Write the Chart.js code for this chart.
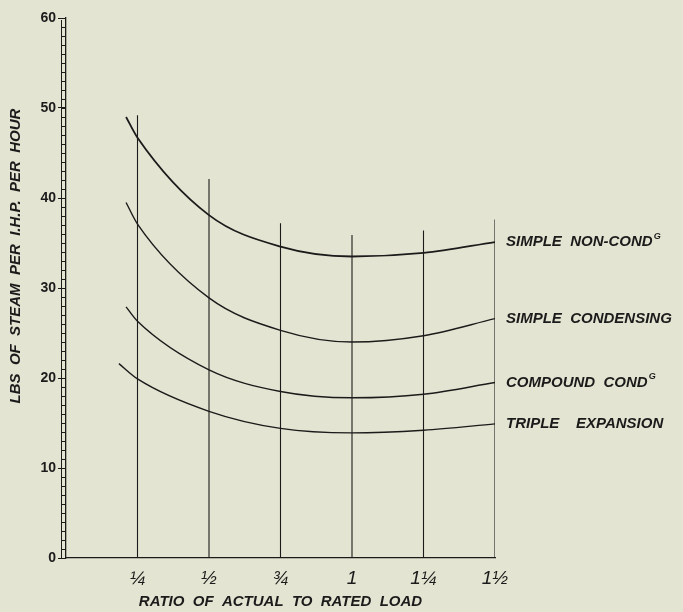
<!DOCTYPE html>
<html>
<head>
<meta charset="utf-8">
<script src="https://cdn.jsdelivr.net/npm/chart.js@4"></script>
<style>
  html, body { margin: 0; padding: 0; background: #e4e4d2; }
  #wrap { width: 683px; height: 612px; }
</style>
</head>
<body>
<div id="wrap"><canvas id="steamChart"></canvas></div>
<script>
// load ratios where the curves are read, and how they are written on the axis
const loadRatios = [0.25, 0.5, 0.75, 1, 1.25, 1.5];
const loadTickLabels = ['¼', '½', '¾', '1', '1¼', '1½'];
const steamTicks = [0, 10, 20, 30, 40, 50, 60];

// engine types (G written raised after the abbreviated "COND")
const engineNames = ['SIMPLE  NON-COND', 'SIMPLE  CONDENSING', 'COMPOUND  COND', 'TRIPLE    EXPANSION'];
const nameSuffix = ['G', '', 'G', ''];

// where each curve begins, left of the 1/4 rule
const curveStartLoad = [0.21, 0.21, 0.21, 0.185];
const curveStartSteam = [49.0, 39.5, 27.9, 21.6];

// lbs of steam per I.H.P. per hour at each load ratio
const simpleNonCond = [46.7, 38.1, 34.6, 33.5, 33.9, 35.1];
const simpleCondensing = [37.1, 28.9, 25.3, 24.0, 24.7, 26.6];
const compoundCond = [26.3, 20.9, 18.5, 17.8, 18.2, 19.5];
const tripleExpansion = [19.9, 16.3, 14.4, 13.9, 14.2, 14.9];

// how high the upright rule at each load ratio is drawn
const ruleTops = [49.2, 42.1, 37.2, 35.9, 36.4, 37.6];

const ink = '#1b1b1b';
const face = '"Liberation Sans", Arial, sans-serif';
const curves = [simpleNonCond, simpleCondensing, compoundCond, tripleExpansion];

const curveSets = curves.map((vals, i) => ({
    data: [{ x: curveStartLoad[i], y: curveStartSteam[i] }]
        .concat(loadRatios.map((x, j) => ({ x: x, y: vals[j] }))),
    borderColor: ink,
    borderWidth: i === 0 ? 1.8 : 1.4,
    pointRadius: 0,
    fill: false,
    cubicInterpolationMode: 'monotone'
}));

const ruleSets = loadRatios.map((x, i) => ({
    data: [{ x: x, y: 0 }, { x: x, y: ruleTops[i] }],
    borderColor: ink,
    borderWidth: 1.1,
    pointRadius: 0,
    fill: false
}));

// double ruled y axis with a rung at every unit
const ladder = {
    id: 'ladder',
    afterDraw(chart) {
        const ctx = chart.ctx;
        const y = chart.scales.y;
        const left = chart.chartArea.left;
        ctx.save();
        ctx.strokeStyle = ink;
        ctx.lineWidth = 1;
        ctx.beginPath();
        ctx.moveTo(left - 4.5, y.getPixelForValue(0));
        ctx.lineTo(left - 4.5, y.getPixelForValue(60) + 2);
        for (let v = 1; v <= 60; v++) {
            const py = Math.round(y.getPixelForValue(v)) + 0.5;
            ctx.moveTo(left - 4.5, py);
            ctx.lineTo(left, py);
        }
        ctx.stroke();
        ctx.restore();
    }
};

// names at the right hand end of each curve, plus the y axis title
const curveNames = {
    id: 'curveNames',
    afterDatasetsDraw(chart) {
        const ctx = chart.ctx;
        ctx.save();
        ctx.fillStyle = ink;
        ctx.textBaseline = 'middle';
        curves.forEach((c, i) => {
            const pts = chart.getDatasetMeta(i).data;
            const last = pts[pts.length - 1];
            const tx = last.x + 11;
            ctx.font = 'italic bold 15px ' + face;
            ctx.fillText(engineNames[i], tx, last.y);
            if (nameSuffix[i]) {
                const w = ctx.measureText(engineNames[i]).width;
                ctx.font = 'italic bold 9px ' + face;
                ctx.fillText(nameSuffix[i], tx + w + 1, last.y - 6);
            }
        });
        ctx.translate(16, 256);
        ctx.rotate(-Math.PI / 2);
        ctx.textAlign = 'center';
        ctx.font = 'italic bold 15px ' + face;
        ctx.fillText('LBS  OF  STEAM  PER  I.H.P.  PER  HOUR', 0, 0);
        ctx.restore();
    }
};

const ctx = document.getElementById('steamChart').getContext('2d');
const steamChart = new Chart(ctx, {
    type: 'line',
    data: { datasets: curveSets.concat(ruleSets) },
    options: {
        responsive: true,
        maintainAspectRatio: false,
        animation: false,
        layout: { padding: { top: 18, right: 188, left: 0, bottom: 0 } },
        scales: {
            x: {
                type: 'linear',
                min: 0,
                max: 1.5,
                afterBuildTicks: (s) => { s.ticks = loadRatios.map(v => ({ value: v })); },
                afterFit: (s) => { s.height = 54; },
                grid: { display: false },
                border: { color: ink, width: 1.3 },
                ticks: {
                    color: ink,
                    padding: 1,
                    maxRotation: 0,
                    font: { family: face, size: 19, style: 'italic' },
                    callback: (v) => loadTickLabels[loadRatios.indexOf(v)] || ''
                },
                title: {
                    display: true,
                    text: 'RATIO  OF  ACTUAL  TO  RATED  LOAD',
                    color: ink,
                    padding: { top: 0, bottom: 1 },
                    font: { family: face, size: 15, style: 'italic', weight: 'bold' }
                }
            },
            y: {
                min: 0,
                max: 60,
                afterBuildTicks: (s) => { s.ticks = steamTicks.map(v => ({ value: v })); },
                afterFit: (s) => { s.width = 66; },
                grid: { drawOnChartArea: false, tickLength: 8, color: ink },
                border: { color: ink, width: 1.3 },
                ticks: {
                    color: ink,
                    padding: 2,
                    font: { family: face, size: 14, weight: 'bold' }
                }
            }
        },
        plugins: {
            legend: { display: false },
            tooltip: { enabled: false }
        }
    },
    plugins: [ladder, curveNames]
});
</script>
</body>
</html>
